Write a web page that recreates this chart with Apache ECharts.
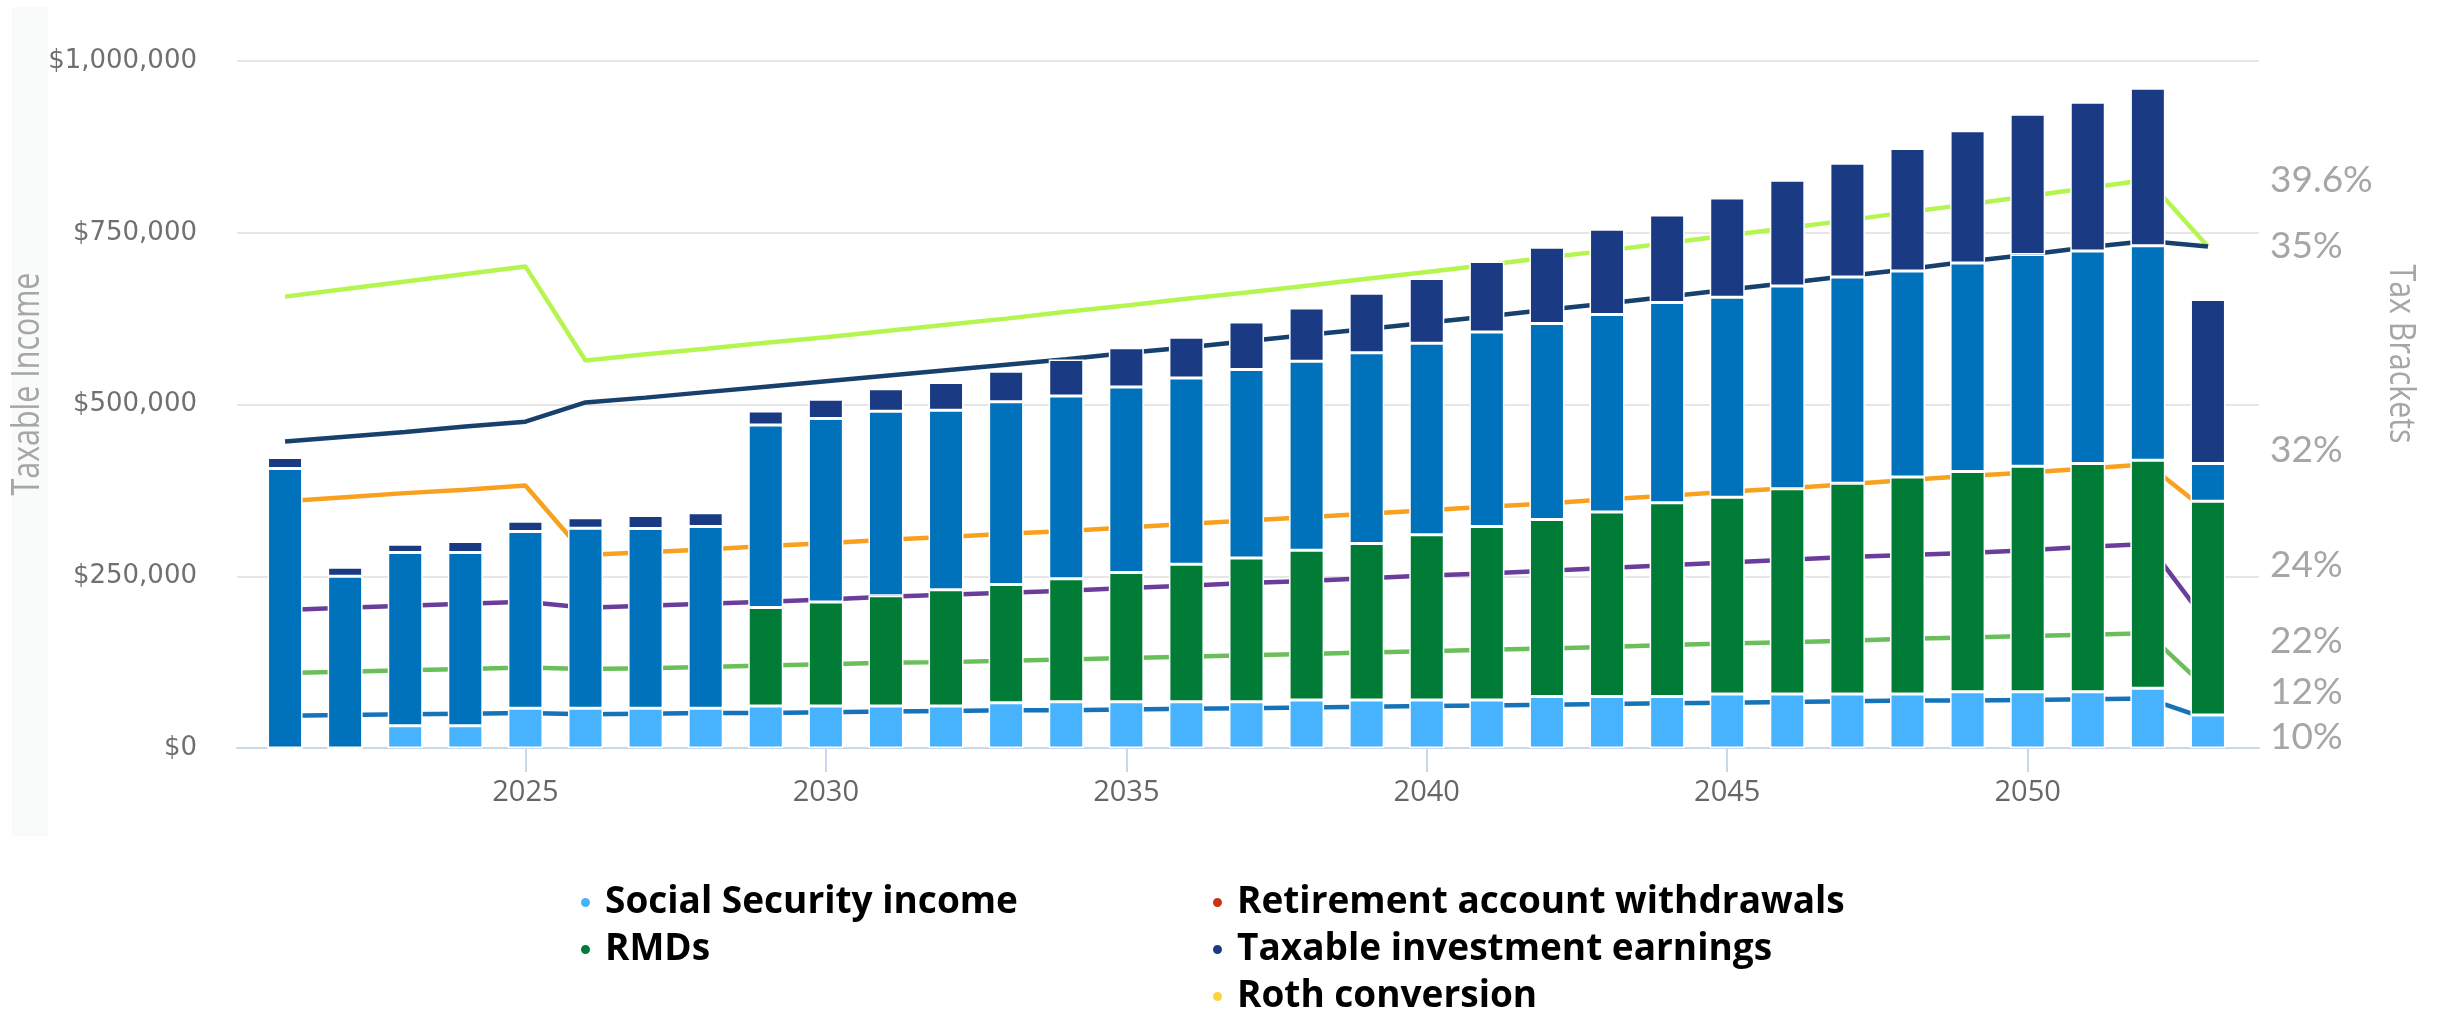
<!DOCTYPE html>
<html>
<head>
<meta charset="utf-8">
<script src="https://cdn.jsdelivr.net/npm/echarts@6/dist/echarts.min.js"></script>
<style>
html,body{margin:0;padding:0;background:#fff;}
#c{width:2443px;height:1020px;}
</style>
</head>
<body>
<div id="c"></div>
<script>
const years = [2021,2022,2023,2024,2025,2026,2027,2028,2029,2030,2031,2032,2033,2034,2035,2036,2037,2038,2039,2040,2041,2042,2043,2044,2045,2046,2047,2048,2049,2050,2051,2052,2053];

const socialSecurity = [0,0,32500,32500,58000,58000,58000,58000,61000,61000,61000,61000,66000,67500,67500,67500,67500,70000,70000,70000,70000,75000,75000,75000,78500,78500,78500,78500,82000,82000,82000,87000,48000];
const rmds = [0,0,0,0,0,0,0,0,143500,151500,160500,169500,172000,179000,188000,200000,209000,218000,227500,240500,252500,257500,268500,282000,286500,299000,307000,316000,320500,328000,332000,332000,311000];
const withdrawals = [407000,250000,252000,252000,257000,262000,261500,264500,265500,267000,268500,261000,266000,266000,270000,271000,274500,275000,278000,278500,283000,285500,287500,291500,291000,295000,300000,300000,303500,308500,309500,312000,55000];
const taxableEarnings = [16000,13000,12000,16000,15000,15000,19000,20000,20500,28000,33000,40500,44500,53000,57000,59500,69000,77500,86500,94500,102500,111000,124000,127500,144500,154000,165500,178000,192500,204000,216500,229500,239000];
const rothConversion = [];

const bracket396 = [657000,668000,679000,690000,701000,564000,573000,581000,590000,598000,607000,616000,625000,635000,644000,654000,663000,673000,683000,693000,703000,714000,724000,735000,746000,757000,768000,780000,791000,803000,815000,827000,730000];
const bracket35 = [446000,453000,460000,468000,475000,503000,510000,518000,526000,534000,542000,550000,558000,566000,575000,583000,592000,601000,610000,619000,628000,638000,647000,657000,667000,677000,687000,697000,708000,718000,729000,738000,730000];
const bracket32 = [359000,365000,371000,376000,382000,281000,285000,289000,294000,298000,303000,307000,312000,316000,321000,326000,331000,336000,341000,346000,351000,356000,362000,367000,373000,378000,384000,390000,396000,401000,407000,413000,344000];
const bracket24 = [201000,204000,207000,210000,213000,204000,207000,210000,213000,216000,220000,223000,226000,229000,233000,236000,240000,243000,247000,251000,254000,258000,262000,266000,270000,274000,278000,281000,284000,288000,293000,297000,181000];
const bracket22 = [109000,111000,113000,115000,117000,115000,116000,118000,120000,122000,124000,125000,127000,129000,131000,133000,135000,137000,139000,141000,143000,145000,147000,150000,152000,154000,156000,159000,161000,163000,165000,167000,85000];
const bracket12 = [47000,48000,49000,50000,51000,49000,50000,51000,51000,52000,53000,54000,55000,55000,56000,57000,58000,59000,60000,61000,62000,63000,64000,65000,66000,67000,68000,69000,69000,70000,71000,72000,42000];

const xTickValues = [2025,2030,2035,2040,2045,2050];
const bracketLabels = ['39.6%','35%','32%','24%','22%','12%','10%'];
const bracketLabelValues = [826000,730000,434000,267000,155000,82000,16000];

const money = v => '$' + String(v).replace(/\B(?=(\d{3})+(?!\d))/g, ',');

const bar = (name, data, color) => ({
  type: 'bar', name: name, stack: 'income', barWidth: 35, z: 3,
  xAxisIndex: 0, yAxisIndex: 0,
  data: data, itemStyle: {color: color, borderColor: '#ffffff', borderWidth: 1.5}, silent: true
});
const line = (name, data, color) => ({
  type: 'line', name: name, data: data, z: 2, symbol: 'none', showSymbol: false,
  xAxisIndex: 0, yAxisIndex: 0,
  lineStyle: {color: color, width: 4.5}, itemStyle: {color: color}, silent: true
});

const legendText = {fontFamily: "'Open Sans', sans-serif", fontWeight: 'bold', fontSize: 37, color: '#000', lineHeight: 47, padding: [0,0,0,9]};
const legendBase = {top: 879, height: 160, orient: 'vertical', itemGap: 0, padding: 0, icon: 'circle',
  itemWidth: 11, itemHeight: 11, selectedMode: false, textStyle: legendText};

const chart = echarts.init(document.getElementById('c'));
chart.setOption({
  animation: false,
  backgroundColor: '#ffffff',
  grid: [
    {left: 255, right: 205, top: 61, bottom: 272},
    {left: 237, right: 184, top: 61, bottom: 272}
  ],
  xAxis: [
    {gridIndex: 0, type: 'category', data: years, boundaryGap: true,
     axisLine: {show: false}, axisTick: {show: false}, axisLabel: {show: false}, splitLine: {show: false}},
    {gridIndex: 1, type: 'value', min: 2020.2, max: 2053.85,
     axisLine: {show: true, lineStyle: {color: '#ccd6eb', width: 2}},
     axisTick: {show: true, customValues: xTickValues, length: 24, lineStyle: {color: '#ccd6eb', width: 2}},
     axisLabel: {customValues: xTickValues, margin: 30, color: '#666666', fontSize: 29,
                 fontFamily: "'Open Sans', sans-serif", formatter: v => String(v)},
     splitLine: {show: false}}
  ],
  yAxis: [
    {gridIndex: 0, type: 'value', min: 0, max: 1000000, show: false, splitLine: {show: false}},
    {gridIndex: 1, type: 'value', min: 0, max: 1000000, interval: 250000,
     axisLine: {show: false}, axisTick: {show: false},
     splitLine: {lineStyle: {color: '#e6e6e6', width: 2}},
     axisLabel: {margin: 40, color: '#707070', fontSize: 26, fontFamily: "'DejaVu Sans', sans-serif", formatter: money}},
    {gridIndex: 1, type: 'value', position: 'right', min: 0, max: 1000000,
     axisLine: {show: false}, axisTick: {show: false}, splitLine: {show: false},
     axisLabel: {customValues: bracketLabelValues, margin: 11, color: '#a6a6a6', fontSize: 37, fontFamily: "Lato, sans-serif",
       formatter: v => { const i = bracketLabelValues.indexOf(v); return i >= 0 ? bracketLabels[i] : ''; }}}
  ],
  legend: [
    Object.assign({left: 579, data: [
      {name: 'Social Security income', itemStyle: {color: '#47b3ff'}},
      {name: 'RMDs', itemStyle: {color: '#017c36'}}]}, legendBase),
    Object.assign({left: 1211, data: [
      {name: 'Retirement account withdrawals', itemStyle: {color: '#cc3311'}},
      {name: 'Taxable investment earnings', itemStyle: {color: '#1a3a84'}},
      {name: 'Roth conversion', itemStyle: {color: '#fdd33a'}}]}, legendBase)
  ],
  graphic: [
    {type: 'rect', left: 12, top: 7, z: -10, shape: {width: 36, height: 829}, style: {fill: '#f9fafa'}},
    {type: 'text', x: 28, y: 384, rotation: Math.PI / 2, scaleX: 0.8,
     style: {text: 'Taxable Income', fill: '#a6a6a6', fontSize: 38, fontFamily: "'Open Sans', sans-serif", align: 'center', verticalAlign: 'middle'}},
    {type: 'text', x: 2401, y: 354, rotation: -Math.PI / 2, scaleX: 0.82,
     style: {text: 'Tax Brackets', fill: '#a6a6a6', fontSize: 37, fontFamily: "'Open Sans', sans-serif", align: 'center', verticalAlign: 'middle'}}
  ],
  series: [
    line('39.6%', bracket396, '#b5f54f'),
    line('35%', bracket35, '#17406d'),
    line('32%', bracket32, '#f8a11e'),
    line('24%', bracket24, '#6b3d9a'),
    line('22%', bracket22, '#6abf5a'),
    line('12%', bracket12, '#1672b9'),
    bar('Social Security income', socialSecurity, '#47b3ff'),
    bar('RMDs', rmds, '#017c36'),
    bar('Retirement account withdrawals', withdrawals, '#0072bb'),
    bar('Taxable investment earnings', taxableEarnings, '#1a3a84'),
    bar('Roth conversion', rothConversion, '#fdd33a')
  ]
});
</script>
</body>
</html>
